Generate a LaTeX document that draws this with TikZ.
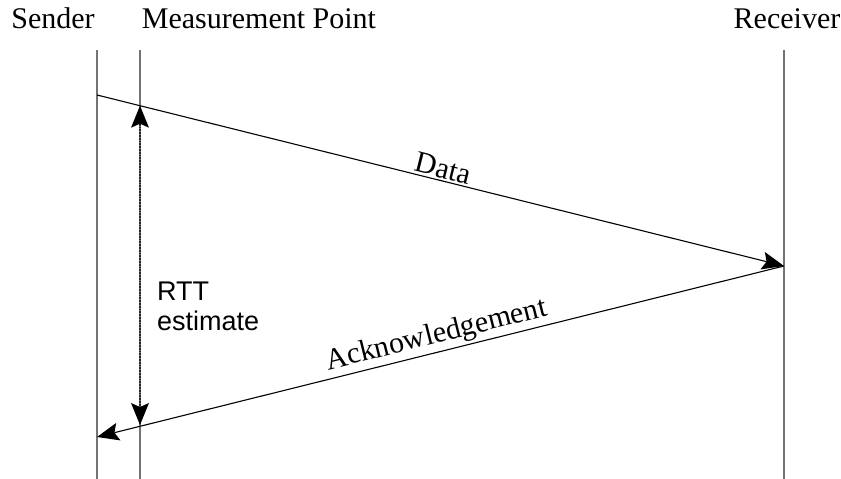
\documentclass[tikz,border=0pt]{standalone}
\usepackage{fontspec}
\setmainfont{Liberation Serif}
\setsansfont{Liberation Sans}
\usetikzlibrary{arrows.meta}
\begin{document}
\begin{tikzpicture}[x=1pt,y=-1pt,
  lifeline/.style={draw=black!55,line width=1.4pt},
  msg/.style={draw=black,line width=1.1pt,-{Stealth[length=22pt,width=18pt,inset=4pt,line width=0pt]}},
  rtt/.style={draw=black!85,line width=1.8pt,densely dotted,
    {Stealth[length=22pt,width=18pt,inset=4pt,line width=0pt,black]}-{Stealth[length=22pt,width=18pt,inset=4pt,line width=0pt,black]}},
  title/.style={font=\fontsize{30}{32}\selectfont,anchor=base},
  lbl/.style={font=\fontsize{30}{32}\selectfont,midway,sloped,above,inner sep=2pt},
  note/.style={font=\sffamily\fontsize{27}{33}\selectfont,align=left,anchor=north west,inner sep=0pt}]
\useasboundingbox (0,0) rectangle (841,479);

% lifelines
\coordinate (sTop) at (97,50);   \coordinate (sBot) at (97,479);
\coordinate (mTop) at (140,50);  \coordinate (mBot) at (140,479);
\coordinate (rTop) at (784,50);  \coordinate (rBot) at (784,479);
\draw[lifeline] (sTop) -- (sBot);
\draw[lifeline] (mTop) -- (mBot);
\draw[lifeline] (rTop) -- (rBot);

% headings
\node[title] (sender) at (53,28) {Sender};
\node[title] (mp) at (259,28) {Measurement Point};
\node[title] (receiver) at (787,28) {Receiver};

% message endpoints
\coordinate (dStart) at (97,95);
\coordinate (dEnd) at (784,266);
\coordinate (aEnd) at (97,437);
\coordinate (mData) at (140,105.7);
\coordinate (mAck) at (140,425);

\draw[msg] (dStart) -- node[lbl] (data) {Data} (dEnd);
\draw[msg] (dEnd) -- node[lbl] (ack) {Acknowledgement} (aEnd);

% round-trip time at the measurement point
\draw[rtt] (mData) -- (mAck);
\node[note] (rttlabel) at (157,282) {RTT\\[-3pt]estimate};
\end{tikzpicture}
\end{document}
